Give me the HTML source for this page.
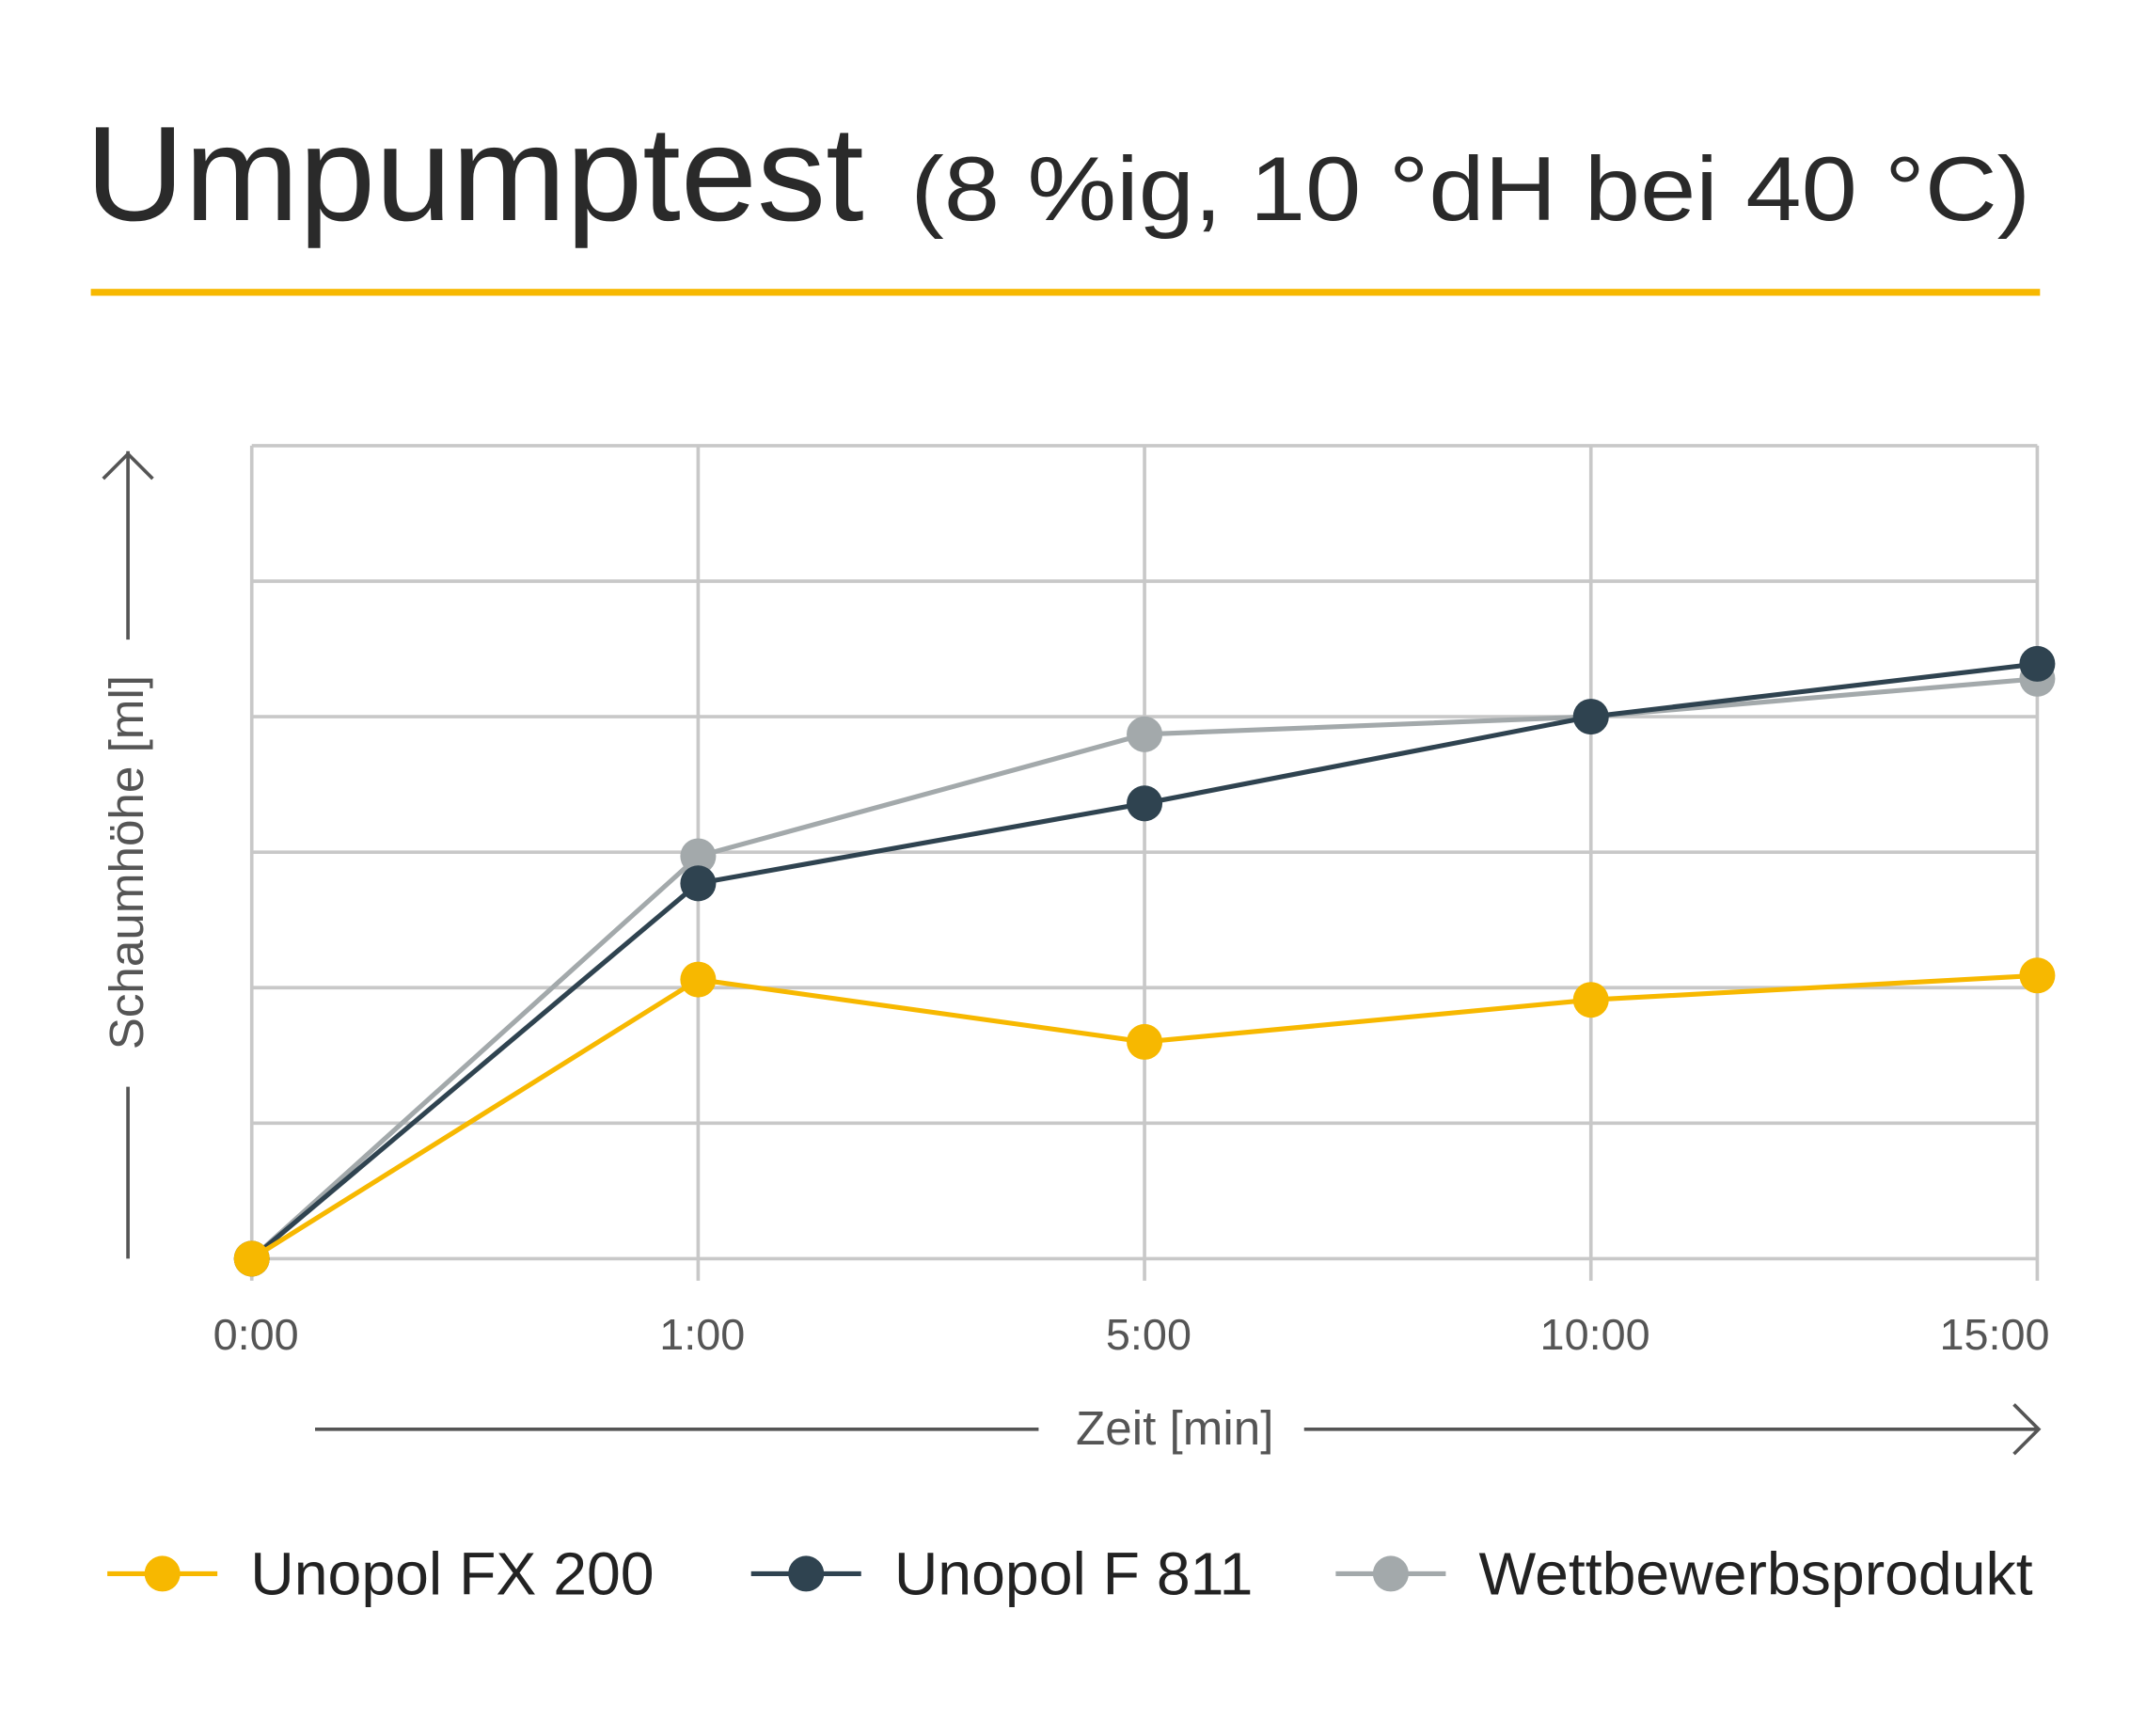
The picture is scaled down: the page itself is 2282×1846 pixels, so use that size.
<!DOCTYPE html>
<html><head><meta charset="utf-8"><style>
html,body{margin:0;padding:0;background:#fff;}
svg{display:block;font-family:"Liberation Sans",sans-serif;}
</style></head><body>
<svg id="chart" width="2282" height="1846" viewBox="0 0 1560 1262" xmlns="http://www.w3.org/2000/svg">
<text x="62" y="160" fill="#2a2a2a" font-size="98" textLength="566" lengthAdjust="spacingAndGlyphs">Umpumptest</text>
<text x="662" y="160" fill="#2a2a2a" font-size="66" textLength="814" lengthAdjust="spacingAndGlyphs">(8 %ig, 10 °dH bei 40 °C)</text>
<rect x="66" y="210" width="1417" height="5" fill="#f7b800"/>
<g id="grid"></g>
<g id="xticks"></g>
<g id="series"></g>
<g stroke="#555" stroke-width="2.5" fill="none">
<line x1="93" y1="465" x2="93" y2="328"/><polyline points="75,348 93,330 111,348"/>
<line x1="93" y1="790" x2="93" y2="915"/>
</g>
<text transform="translate(104,627) rotate(-90)" text-anchor="middle" font-size="35" fill="#555">Schaumhöhe [ml]</text>
<g stroke="#555" stroke-width="2.5" fill="none">
<line x1="229" y1="1039" x2="755" y2="1039"/><line x1="948" y1="1039" x2="1482" y2="1039"/><polyline points="1464,1021 1482,1039 1464,1057"/>
</g>
<text x="854" y="1050" text-anchor="middle" font-size="35" fill="#555">Zeit [min]</text>
<g id="legend"></g>
</svg>
<script>
const categories=["0:00","1:00","5:00","10:00","15:00"];
const fx200=[0,2.06,1.6,1.91,2.09];
const f811=[0,2.77,3.36,4.0,4.39];
const wett=[0,2.97,3.87,4.0,4.28];
const seriesNames=["Unopol FX 200","Unopol F 811","Wettbewerbsprodukt"];
const yMax=6;
const NS="http://www.w3.org/2000/svg";
const L=183,R=1481,T=324,B=915;
const xs=i=>L+i*(R-L)/(categories.length-1);
const ys=v=>B-v*(B-T)/yMax;
function mk(tag,a,p){const e=document.createElementNS(NS,tag);for(const k in a)e.setAttribute(k,a[k]);p.appendChild(e);return e;}
const grid=document.getElementById('grid');
for(let k=0;k<=yMax;k++){const l=mk('line',{x1:L,x2:R,y1:ys(k),y2:ys(k),stroke:'#c8c8c8','stroke-width':2.5},grid);

}
const xt=document.getElementById('xticks');
categories.forEach((c,i)=>{const l=mk('line',{x1:xs(i),x2:xs(i),y1:T,y2:B+16,stroke:'#c8c8c8','stroke-width':2.5},grid);


const last=i===categories.length-1;
const t=mk('text',{x:last?xs(i)+9:xs(i)+3,y:981,'text-anchor':last?'end':'middle','font-size':32,fill:'#555'},xt);t.textContent=c;

});
const colors=['#f7b800','#2f4350','#a3a9ab'];
const data=[fx200,f811,wett];
const sg=document.getElementById('series');
[2,1,0].forEach(si=>{const g=mk('g',{},sg);


const pl=mk('polyline',{points:data[si].map((v,i)=>xs(i)+','+ys(v)).join(' '),fill:'none',stroke:colors[si],'stroke-width':3.5},g);


data[si].forEach((v,i)=>{const c=mk('circle',{cx:xs(i),cy:ys(v),r:13,fill:colors[si]},g);

});});
const lg=document.getElementById('legend');
const lx=[78,546,971];
seriesNames.forEach((n,i)=>{const g=mk('g',{},lg);


mk('line',{x1:lx[i],x2:lx[i]+80,y1:1144,y2:1144,stroke:colors[i],'stroke-width':3.5},g);
mk('circle',{cx:lx[i]+40,cy:1144,r:13,fill:colors[i]},g);
const t=mk('text',{x:lx[i]+104,y:1159,'font-size':44,fill:'#222'},g);t.textContent=n;});
</script>
</body></html>
